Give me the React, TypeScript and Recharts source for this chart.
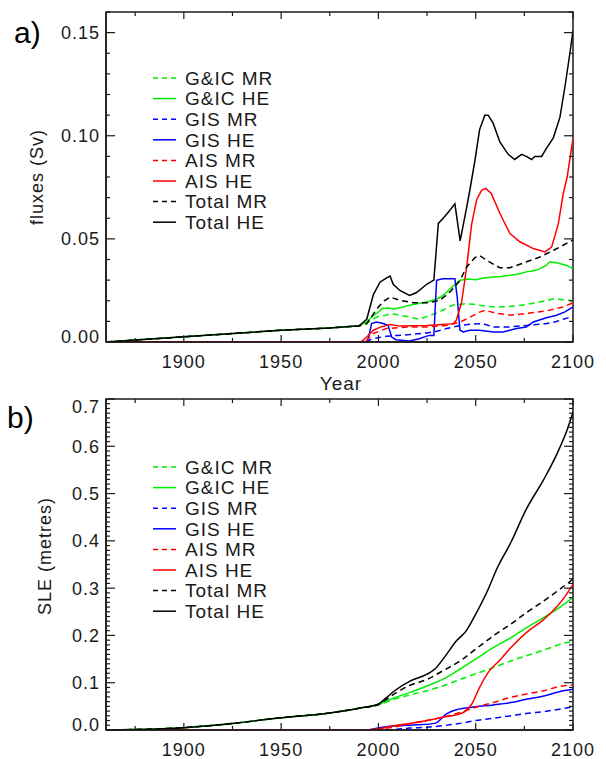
import React from 'react';
import { LineChart, Line, XAxis, YAxis, ReferenceArea } from 'recharts';

type Pt = [number, number];

// series order = legend order = draw order
const seriesNames = ['G&IC MR', 'G&IC HE', 'GIS MR', 'GIS HE', 'AIS MR', 'AIS HE', 'Total MR', 'Total HE'];
const seriesColors = ['#00ee00', '#00ee00', '#0000ff', '#0000ff', '#ff0000', '#ff0000', '#000000', '#000000'];
const seriesDashed = [true, false, true, false, true, false, true, false];

const xTicks = [1875, 1900, 1925, 1950, 1975, 2000, 2025, 2050, 2075, 2100];
const xMajorTicks = [1900, 1950, 2000, 2050, 2100];

const fluxMajorTicks = [0, 0.05, 0.1, 0.15];
const fluxTickLabels = ['0.00', '0.05', '0.10', '0.15'];
const sleMajorTicks = [0, 0.1, 0.2, 0.3, 0.4, 0.5, 0.6, 0.7];
const sleTickLabels = ['0.0', '0.1', '0.2', '0.3', '0.4', '0.5', '0.6', '0.7'];

// a) fluxes (Sv)
const fluxGicMr: Pt[] = [[1860, 0], [1900, 0.0025], [1950, 0.0057], [1975, 0.0068], [1990, 0.0078], [1994, 0.0089], [1997, 0.011], [2000, 0.0125], [2003, 0.0128], [2007, 0.0138], [2011, 0.013], [2016, 0.0121], [2021, 0.011], [2026, 0.0128], [2030, 0.014], [2033, 0.0154], [2038, 0.0178], [2042, 0.0182], [2045, 0.0186], [2049, 0.0183], [2052, 0.0178], [2057, 0.0172], [2062, 0.017], [2067, 0.0172], [2073, 0.0178], [2078, 0.0185], [2083, 0.0194], [2087, 0.0202], [2090, 0.021], [2095, 0.0205], [2100, 0.0199]];
const fluxGicHe: Pt[] = [[1860, 0], [1900, 0.0025], [1950, 0.0057], [1975, 0.0068], [1990, 0.0079], [1994, 0.0097], [1997, 0.0125], [2000, 0.0145], [2002, 0.0162], [2005, 0.0165], [2008, 0.016], [2012, 0.0168], [2016, 0.0178], [2020, 0.0185], [2025, 0.0194], [2029, 0.0205], [2032, 0.0218], [2035, 0.024], [2037, 0.0259], [2040, 0.0285], [2042, 0.0299], [2046, 0.0305], [2050, 0.0302], [2054, 0.031], [2059, 0.0315], [2063, 0.0318], [2068, 0.0324], [2072, 0.033], [2076, 0.034], [2080, 0.0345], [2083, 0.0356], [2086, 0.037], [2088, 0.0388], [2091, 0.0385], [2094, 0.0378], [2097, 0.037], [2100, 0.0356]];
const fluxGisMr: Pt[] = [[1860, 0], [1993, 0], [1997, 0.0016], [2004, 0.0028], [2010, 0.0032], [2016, 0.0036], [2025, 0.0044], [2030, 0.0052], [2035, 0.0065], [2042, 0.008], [2047, 0.0086], [2052, 0.0089], [2055, 0.0085], [2059, 0.0073], [2067, 0.0073], [2076, 0.008], [2086, 0.0089], [2091, 0.0098], [2095, 0.011], [2100, 0.0125]];
const fluxGisHe: Pt[] = [[1860, 0], [1994, 0], [1995, 0.0024], [1996.5, 0.0089], [1999, 0.0097], [2002.5, 0.009], [2005, 0.008], [2006.8, 0.0024], [2009, 0.0011], [2016, 0.0005], [2021, 0.0016], [2026, 0.0032], [2028.5, 0.0032], [2029.9, 0.0299], [2033, 0.0307], [2039.3, 0.0307], [2040.5, 0.0218], [2041.9, 0.0057], [2043.6, 0.0049], [2047, 0.0057], [2052, 0.0057], [2059, 0.0049], [2064, 0.0049], [2071, 0.0065], [2076, 0.0073], [2079.6, 0.0097], [2086.4, 0.0118], [2091.6, 0.013], [2095.9, 0.0146], [2100, 0.017]];
const fluxAisMr: Pt[] = [[1860, 0], [1992, 0], [1994, 0.0008], [1997, 0.004], [2004, 0.0065], [2016, 0.0073], [2025, 0.0073], [2035, 0.008], [2042, 0.0097], [2046, 0.0115], [2049, 0.013], [2052, 0.0145], [2055, 0.0154], [2060, 0.014], [2068, 0.013], [2076, 0.0138], [2086, 0.015], [2095, 0.017], [2100, 0.019]];
const fluxAisHe: Pt[] = [[1860, 0], [1991, 0], [1994, 0.0024], [1997.4, 0.0057], [2001, 0.0072], [2006, 0.0085], [2011, 0.0077], [2025, 0.008], [2038.5, 0.0089], [2040, 0.0105], [2042.7, 0.019], [2045.3, 0.036], [2047.9, 0.057], [2050.5, 0.069], [2053, 0.0735], [2055.2, 0.0745], [2058, 0.072], [2062.4, 0.0624], [2067.6, 0.0526], [2072.7, 0.0486], [2079.6, 0.0453], [2085.6, 0.0437], [2089, 0.046], [2092.4, 0.057], [2095, 0.072], [2097, 0.08], [2100, 0.0987]];
const fluxTotalMr: Pt[] = [[1860, 0], [1900, 0.0025], [1950, 0.0057], [1975, 0.0068], [1990, 0.0078], [1994, 0.0089], [1997, 0.013], [2000, 0.017], [2003, 0.02], [2006, 0.0218], [2011, 0.0202], [2018, 0.019], [2025, 0.019], [2031.6, 0.0202], [2036.8, 0.0243], [2042, 0.0299], [2045.3, 0.0364], [2049.6, 0.0409], [2052, 0.042], [2055.6, 0.0396], [2062.4, 0.036], [2067.6, 0.036], [2074.4, 0.0383], [2083, 0.0412], [2090, 0.0445], [2100, 0.0494]];
const fluxTotalHe: Pt[] = [[1860, 0], [1900, 0.0025], [1950, 0.0057], [1975, 0.0068], [1990, 0.0079], [1994, 0.011], [1997.4, 0.023], [2000.8, 0.029], [2004, 0.031], [2006, 0.032], [2007.6, 0.028], [2011, 0.025], [2016, 0.0226], [2019.6, 0.024], [2024.8, 0.028], [2028.5, 0.03], [2030.8, 0.0575], [2033.3, 0.06], [2036, 0.063], [2039.3, 0.067], [2042, 0.049], [2045.3, 0.065], [2047, 0.0737], [2049.6, 0.088], [2052, 0.103], [2054.7, 0.11], [2056.4, 0.11], [2059, 0.106], [2062.4, 0.097], [2066.7, 0.091], [2070, 0.0885], [2073.6, 0.091], [2076, 0.09], [2078.7, 0.0885], [2080.4, 0.09], [2083.9, 0.09], [2086.4, 0.094], [2089.9, 0.099], [2093.3, 0.109], [2095.9, 0.124], [2098.4, 0.14], [2100, 0.151]];

// b) SLE (metres)
const sleGicMr: Pt[] = [[1860, 0], [1875, 0.001], [1900, 0.005], [1925, 0.014], [1950, 0.026], [1975, 0.036], [1990, 0.046], [2000, 0.053], [2008, 0.065], [2016, 0.074], [2025, 0.083], [2033, 0.093], [2042, 0.107], [2050, 0.119], [2059, 0.132], [2068, 0.146], [2076, 0.157], [2085, 0.169], [2093, 0.181], [2100, 0.188]];
const sleGicHe: Pt[] = [[1860, 0], [1875, 0.001], [1900, 0.005], [1925, 0.014], [1950, 0.026], [1975, 0.036], [1990, 0.046], [2000, 0.054], [2008, 0.068], [2016, 0.079], [2025, 0.093], [2033, 0.107], [2042, 0.129], [2050, 0.15], [2059, 0.174], [2068, 0.195], [2076, 0.216], [2085, 0.238], [2093, 0.259], [2100, 0.28]];
const sleGisMr: Pt[] = [[1860, 0], [2000, 0], [2008, 0.001], [2016, 0.004], [2025, 0.006], [2033, 0.009], [2042, 0.014], [2050, 0.02], [2059, 0.025], [2068, 0.03], [2076, 0.035], [2085, 0.039], [2093, 0.044], [2100, 0.049]];
const sleGisHe: Pt[] = [[1860, 0], [1994, 0], [1996, 0.001], [2002, 0.006], [2010, 0.009], [2020, 0.011], [2029, 0.014], [2035, 0.034], [2040, 0.043], [2050, 0.049], [2059, 0.053], [2068, 0.058], [2076, 0.065], [2085, 0.072], [2093, 0.081], [2100, 0.086]];
const sleAisMr: Pt[] = [[1860, 0], [1993, 0], [1999, 0.002], [2008, 0.006], [2016, 0.013], [2025, 0.02], [2033, 0.027], [2042, 0.037], [2050, 0.048], [2059, 0.058], [2068, 0.069], [2076, 0.076], [2085, 0.083], [2093, 0.092], [2100, 0.095]];
const sleAisHe: Pt[] = [[1860, 0], [1993, 0], [1999, 0.002], [2008, 0.009], [2016, 0.014], [2025, 0.02], [2033, 0.027], [2042, 0.034], [2045, 0.041], [2048, 0.055], [2052, 0.09], [2057, 0.125], [2062, 0.146], [2068, 0.174], [2076, 0.206], [2085, 0.234], [2092, 0.262], [2096, 0.283], [2100, 0.308]];
const sleTotalMr: Pt[] = [[1860, 0], [1875, 0.001], [1900, 0.005], [1925, 0.014], [1950, 0.026], [1975, 0.036], [1990, 0.046], [2000, 0.054], [2008, 0.076], [2016, 0.094], [2025, 0.107], [2033, 0.125], [2042, 0.146], [2050, 0.171], [2059, 0.199], [2068, 0.224], [2076, 0.248], [2085, 0.273], [2093, 0.297], [2100, 0.319]];
const sleTotalHe: Pt[] = [[1860, 0], [1875, 0.001], [1900, 0.005], [1925, 0.014], [1950, 0.026], [1975, 0.036], [1990, 0.046], [2000, 0.055], [2004, 0.068], [2008, 0.082], [2016, 0.103], [2025, 0.118], [2029, 0.129], [2035, 0.16], [2040, 0.188], [2045, 0.209], [2050, 0.245], [2056, 0.294], [2061, 0.342], [2068, 0.396], [2076, 0.467], [2085, 0.53], [2092, 0.586], [2097, 0.635], [2100, 0.672]];

const fluxSeries = [fluxGicMr, fluxGicHe, fluxGisMr, fluxGisHe, fluxAisMr, fluxAisHe, fluxTotalMr, fluxTotalHe];
const sleSeries = [sleGicMr, sleGicHe, sleGisMr, sleGisHe, sleAisMr, sleAisHe, sleTotalMr, sleTotalHe];

const FONT = '"Liberation Sans", Arial, sans-serif';
const INK = '#1a1a1a';
const PLOT_W = 467;

const minorSteps = (max: number) =>
  Array.from({ length: Math.round(max * 100) + 1 }, (_, i) => +(i * 0.01).toFixed(2));

const labelFor = (v: number, majors: number[], labels: string[]) => {
  const i = majors.findIndex((m) => Math.abs(m - v) < 1e-6);
  return i >= 0 ? labels[i] : null;
};

const makeXTick = (plotH: number) => (props: any) => {
  const { x, y, payload } = props;
  const major = xMajorTicks.includes(payload.value);
  const len = major ? 7 : 4;
  return (
    <g>
      <line x1={x} y1={y} x2={x} y2={y - len} stroke={INK} strokeWidth={1.2} />
      <line x1={x} y1={y - plotH} x2={x} y2={y - plotH + len} stroke={INK} strokeWidth={1.2} />
      {major && (
        <text x={x} y={y + 26} textAnchor="middle" fontFamily={FONT} fontSize={18} letterSpacing={1} fill={INK}>
          {payload.value}
        </text>
      )}
    </g>
  );
};

const makeYTick = (majors: number[], labels: string[], yMax: number) => (props: any) => {
  const { x, y, payload } = props;
  const label = labelFor(payload.value, majors, labels);
  const len = label ? 9 : 4;
  let shift = 6.5;
  if (payload.value === 0) shift = 0.5;
  if (Math.abs(payload.value - yMax) < 1e-6) shift = 13.5;
  return (
    <g>
      <line x1={x} y1={y} x2={x + len} y2={y} stroke={INK} strokeWidth={1.2} />
      <line x1={x + PLOT_W} y1={y} x2={x + PLOT_W - len} y2={y} stroke={INK} strokeWidth={1.2} />
      {label && (
        <text x={x - 6} y={y + shift} textAnchor="end" fontFamily={FONT} fontSize={18} letterSpacing={1} fill={INK}>
          {label}
        </text>
      )}
    </g>
  );
};

interface PanelProps {
  series: Pt[][];
  height: number;
  marginTop: number;
  axisHeight: number;
  yMax: number;
  majors: number[];
  labels: string[];
  curve: 'linear' | 'monotone';
}

const Panel = ({ series, height, marginTop, axisHeight, yMax, majors, labels, curve }: PanelProps) => {
  const plotH = height - marginTop - axisHeight;
  return (
    <LineChart width={606} height={height} margin={{ top: marginTop, right: 606 - 106 - PLOT_W, left: 0, bottom: 0 }}>
      <XAxis
        dataKey="year"
        type="number"
        domain={[1860, 2100]}
        allowDataOverflow
        ticks={xTicks}
        interval={0}
        height={axisHeight}
        tickSize={0}
        tickMargin={0}
        tickLine={false}
        axisLine={{ stroke: INK, strokeWidth: 1.5 }}
        tick={makeXTick(plotH)}
      />
      <YAxis
        type="number"
        domain={[0, yMax]}
        allowDataOverflow
        ticks={minorSteps(yMax)}
        interval={0}
        width={106}
        tickSize={0}
        tickMargin={0}
        tickLine={false}
        axisLine={{ stroke: INK, strokeWidth: 1.5 }}
        tick={makeYTick(majors, labels, yMax)}
      />
      <ReferenceArea x1={1860} x2={2100} y1={0} y2={yMax} fill="none" stroke={INK} strokeWidth={1.5} />
      {series.map((pts, i) => (
        <Line
          key={seriesNames[i]}
          data={pts.map(([year, v]) => ({ year, v }))}
          dataKey="v"
          type={curve}
          stroke={seriesColors[i]}
          strokeWidth={1.5}
          strokeDasharray={seriesDashed[i] ? '6 4' : undefined}
          dot={false}
          activeDot={false}
          isAnimationActive={false}
        />
      ))}
    </LineChart>
  );
};

const Legend = ({ top }: { top: number }) => (
  <g>
    {seriesNames.map((name, i) => {
      const cy = top + i * 20.6;
      return (
        <g key={name}>
          <line x1={153} y1={cy} x2={176} y2={cy} stroke={seriesColors[i]} strokeWidth={1.5} strokeDasharray={seriesDashed[i] ? '5 4' : undefined} />
          <text x={185} y={cy + 6.8} fontFamily={FONT} fontSize={19} letterSpacing={1} fill={INK}>
            {name}
          </text>
        </g>
      );
    })}
  </g>
);

export default function App() {
  return (
    <div style={{ position: 'absolute', left: 0, top: 0, width: 606, height: 759, background: '#fff' }}>
      <div style={{ position: 'absolute', left: 0, top: 0 }}>
        <Panel series={fluxSeries} height={380} marginTop={12} axisHeight={38} yMax={0.16} majors={fluxMajorTicks} labels={fluxTickLabels} curve="linear" />
      </div>
      <div style={{ position: 'absolute', left: 0, top: 380 }}>
        <Panel series={sleSeries} height={379} marginTop={19} axisHeight={29} yMax={0.7} majors={sleMajorTicks} labels={sleTickLabels} curve="monotone" />
      </div>
      <svg width={606} height={759} style={{ position: 'absolute', left: 0, top: 0, pointerEvents: 'none' }}>
        <text x={14} y={43} fontFamily={FONT} fontSize={30} fill="#000">a)</text>
        <text x={7} y={428} fontFamily={FONT} fontSize={30} fill="#000">b)</text>
        <text transform="translate(37,177) rotate(-90)" textAnchor="middle" dominantBaseline="central" fontFamily={FONT} fontSize={18} letterSpacing={1} fill={INK}>
          fluxes (Sv)
        </text>
        <text transform="translate(45,556) rotate(-90)" textAnchor="middle" dominantBaseline="central" fontFamily={FONT} fontSize={18} letterSpacing={1} fill={INK}>
          SLE (metres)
        </text>
        <text x={341} y={389.5} textAnchor="middle" fontFamily={FONT} fontSize={19} letterSpacing={1} fill={INK}>
          Year
        </text>
        <Legend top={78} />
        <Legend top={467} />
      </svg>
    </div>
  );
}
